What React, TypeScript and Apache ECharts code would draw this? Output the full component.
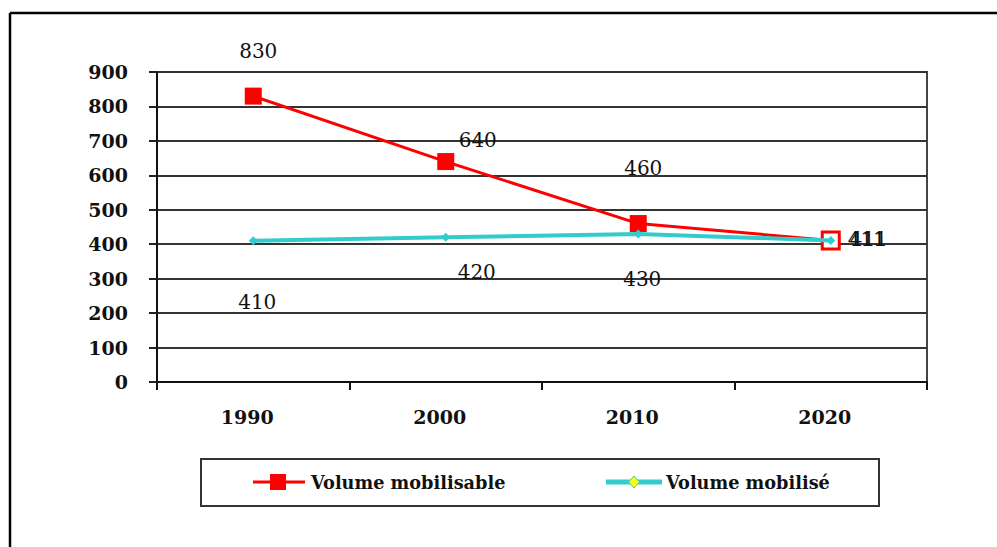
import React, { useEffect, useRef } from "react";
import * as echarts from "echarts";

const years = ["1990", "2000", "2010", "2020"];
const volumeMobilisable = [830, 640, 460, 411];
const volumeMobilise = [410, 420, 430, 411];
const yTicks = { min: 0, max: 900, interval: 100 };
const seriesNames = ["Volume mobilisable", "Volume mobilisé"];

// label offsets relative to each point (style, not data)
const redLabelOffsets = [[5, -45], [32, -22], [5, -56], [36, -1]];
const cyanLabelOffsets = [[4, 61], [31, 35], [4, 45], [38, -1]];

const FONT = "DejaVu Serif";
const RED = "#ff0000";
const CYAN = "#33cccc";

export default function App() {
  const ref = useRef<HTMLDivElement>(null);
  useEffect(() => {
    if (!ref.current) return;
    const chart = echarts.init(ref.current, null, { renderer: "svg" });
    const labelBase = {
      show: true,
      position: "inside",
      formatter: "{c}",
      color: "#111",
      fontFamily: FONT,
      fontSize: 20,
      fontWeight: "normal",
      align: "center",
      verticalAlign: "middle",
    };
    const legendText = {
      fill: "#111",
      fontFamily: FONT,
      fontSize: 17.7,
      fontWeight: "bold",
      verticalAlign: "middle",
      align: "left",
    };
    chart.setOption({
      animation: false,
      backgroundColor: "#ffffff",
      textStyle: { fontFamily: FONT },
      grid: {
        left: 157,
        right: 70,
        top: 72,
        bottom: 165,
        show: true,
        borderColor: "#444",
        borderWidth: 2,
        containLabel: false,
      },
      xAxis: {
        type: "category",
        data: years,
        boundaryGap: true,
        axisLine: { show: true, lineStyle: { color: "#111", width: 2 } },
        axisTick: { show: true, length: 8, lineStyle: { color: "#111", width: 2 } },
        axisLabel: {
          color: "#111",
          fontFamily: FONT,
          fontSize: 19,
          fontWeight: "bold",
          margin: 25,
          padding: [0, 12, 0, 0],
        },
        splitLine: { show: false },
      },
      yAxis: {
        type: "value",
        min: yTicks.min,
        max: yTicks.max,
        interval: yTicks.interval,
        axisLine: { show: true, lineStyle: { color: "#111", width: 2 } },
        axisTick: { show: true, length: 8, lineStyle: { color: "#222", width: 2 } },
        axisLabel: {
          color: "#111",
          fontFamily: FONT,
          fontSize: 19,
          fontWeight: "bold",
          margin: 29,
        },
        splitLine: { show: true, lineStyle: { color: "#333", width: 2 } },
      },
      series: [
        {
          name: seriesNames[0],
          type: "line",
          symbol: "rect",
          symbolSize: 17,
          lineStyle: { color: RED, width: 3 },
          itemStyle: { color: RED },
          z: 3,
          data: volumeMobilisable.map((v, i) => ({
            value: v,
            label: { ...labelBase, offset: redLabelOffsets[i] },
            itemStyle:
              i === volumeMobilisable.length - 1
                ? { color: "#ffffff", borderColor: RED, borderWidth: 3 }
                : { color: RED },
          })),
        },
        {
          name: seriesNames[1],
          type: "line",
          symbol: "diamond",
          symbolSize: 9,
          lineStyle: { color: CYAN, width: 4 },
          itemStyle: { color: CYAN },
          z: 4,
          data: volumeMobilise.map((v, i) => ({
            value: v,
            label: { ...labelBase, offset: cyanLabelOffsets[i] },
          })),
        },
      ],
      graphic: [
        {
          type: "line",
          shape: { x1: 10, y1: 13, x2: 997, y2: 13 },
          style: { stroke: "#000", lineWidth: 2.5 },
          silent: true,
        },
        {
          type: "line",
          shape: { x1: 10, y1: 13, x2: 10, y2: 547 },
          style: { stroke: "#000", lineWidth: 2.5 },
          silent: true,
        },
        {
          type: "group",
          silent: true,
          children: [
            {
              type: "rect",
              shape: { x: 201, y: 459, width: 678, height: 47 },
              style: { fill: "#fff", stroke: "#333", lineWidth: 2 },
            },
            {
              type: "line",
              shape: { x1: 253, y1: 482, x2: 305, y2: 482 },
              style: { stroke: RED, lineWidth: 3 },
            },
            {
              type: "rect",
              shape: { x: 270, y: 474, width: 16, height: 16 },
              style: { fill: RED },
            },
            {
              type: "text",
              x: 311,
              y: 482,
              style: { ...legendText, text: seriesNames[0] },
            },
            {
              type: "line",
              shape: { x1: 606, y1: 482, x2: 662, y2: 482 },
              style: { stroke: CYAN, lineWidth: 5 },
            },
            {
              type: "polygon",
              shape: { points: [[634, 476], [639.5, 482], [634, 488], [628.5, 482]] },
              style: { fill: "#ffff00", stroke: CYAN, lineWidth: 1 },
            },
            {
              type: "text",
              x: 666,
              y: 482,
              style: { ...legendText, text: seriesNames[1] },
            },
          ],
        },
      ],
    });
    return () => chart.dispose();
  }, []);
  return (
    <div
      ref={ref}
      style={{ position: "fixed", left: 0, top: 0, width: 997, height: 547, background: "#fff" }}
    />
  );
}
